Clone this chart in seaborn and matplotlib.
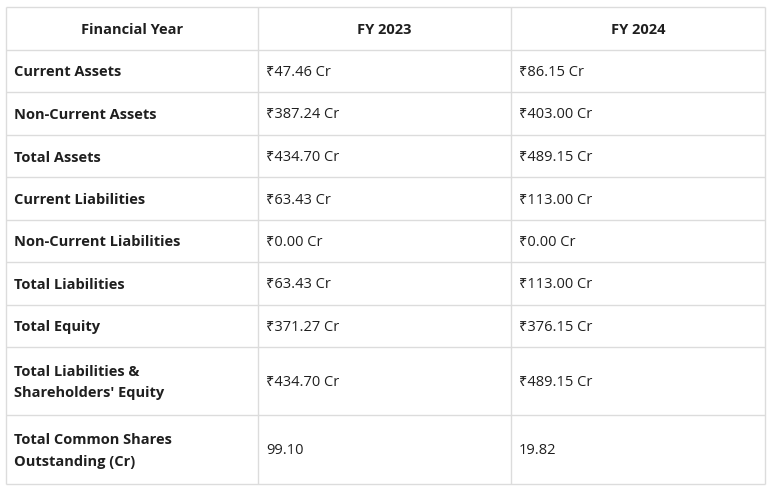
import matplotlib
matplotlib.use("Agg")
import matplotlib.pyplot as plt
import seaborn as sns

HEADERS = ["Financial Year", "FY 2023", "FY 2024"]
ROW_LABELS = ["Current Assets", "Non-Current Assets", "Total Assets", "Current Liabilities",
              "Non-Current Liabilities", "Total Liabilities", "Total Equity",
              "Total Liabilities &\nShareholders' Equity",
              "Total Common Shares\nOutstanding (Cr)"]
FY2023 = ["₹47.46 Cr", "₹387.24 Cr", "₹434.70 Cr", "₹63.43 Cr", "₹0.00 Cr",
          "₹63.43 Cr", "₹371.27 Cr", "₹434.70 Cr", "99.10"]
FY2024 = ["₹86.15 Cr", "₹403.00 Cr", "₹489.15 Cr", "₹113.00 Cr", "₹0.00 Cr",
          "₹113.00 Cr", "₹376.15 Cr", "₹489.15 Cr", "19.82"]

sns.set_theme(style="white", rc={"font.family": ["Open Sans", "Noto Sans", "DejaVu Sans"]})

COL_X = [6, 258, 511, 765]
ROW_Y = [7, 50, 92, 135, 177, 220, 262, 305, 347, 415, 484]
LINE = "#dcdcdc"
TEXT = "#1f1f1f"

fig = plt.figure(figsize=(7.72, 4.93), dpi=100)
ax = fig.add_axes([0, 0, 1, 1])
ax.set_xlim(0, 772)
ax.set_ylim(493, 0)
ax.axis("off")

ax.hlines(ROW_Y, COL_X[0], COL_X[-1], color=LINE, lw=1)
ax.vlines(COL_X, ROW_Y[0], ROW_Y[-1], color=LINE, lw=1)

fs = 10.5
for j, h in enumerate(HEADERS):
    ax.text((COL_X[j] + COL_X[j + 1]) / 2, (ROW_Y[0] + ROW_Y[1]) / 2 + 1.5, h,
            ha="center", va="center", fontsize=fs, fontweight="bold", color=TEXT)

for i, (lab, a, b) in enumerate(zip(ROW_LABELS, FY2023, FY2024)):
    yc = (ROW_Y[i + 1] + ROW_Y[i + 2]) / 2 + 1.5
    ax.text(COL_X[0] + 8, yc, lab, ha="left", va="center", fontsize=fs,
            fontweight="bold", color=TEXT, linespacing=1.7)
    ax.text(COL_X[1] + 8, yc, a, ha="left", va="center", fontsize=fs, color=TEXT)
    ax.text(COL_X[2] + 8, yc, b, ha="left", va="center", fontsize=fs, color=TEXT)

fig.savefig("out.png", dpi=100)
plt.close(fig)
